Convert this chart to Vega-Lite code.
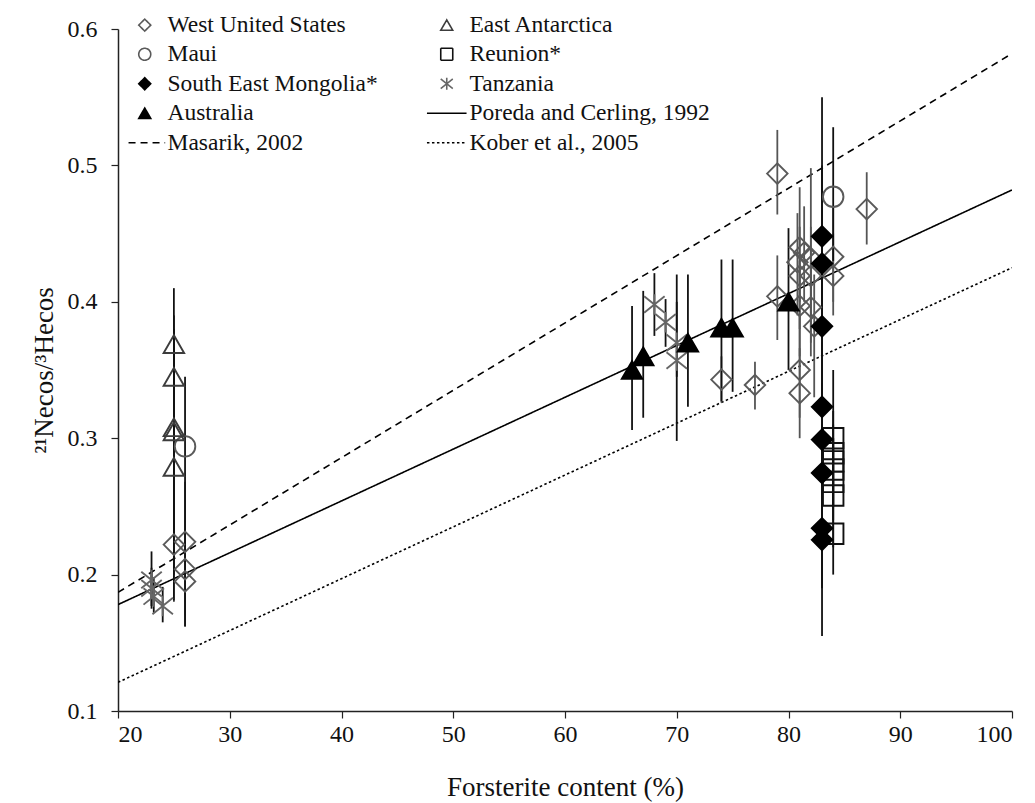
{
  "$schema": "https://vega.github.io/schema/vega-lite/v6.json",
  "width": 894,
  "height": 682,
  "autosize": {"type": "none"},
  "padding": {"left": 118, "top": 29, "right": 23, "bottom": 92},
  "background": "white",
  "config": {
    "view": {"stroke": null},
    "font": "Liberation Serif",
    "axis": {
      "grid": false,
      "domainColor": "#222",
      "domainWidth": 1.5,
      "tickColor": "#222",
      "tickWidth": 1.2,
      "tickSize": 7,
      "labelFont": "Liberation Serif",
      "labelFontSize": 24,
      "labelColor": "#111",
      "titleFont": "Liberation Serif",
      "titleFontWeight": "normal",
      "titleFontSize": 27,
      "titleColor": "#111"
    },
    "legend": {
      "orient": "none",
      "legendX": 15,
      "legendY": -16,
      "columns": 2,
      "padding": 0,
      "columnPadding": 45,
      "rowPadding": 4.5,
      "symbolSize": 144,
      "symbolStrokeWidth": 1.6,
      "symbolFillColor": "transparent",
      "labelFont": "Liberation Serif",
      "labelFontSize": 23.5,
      "labelColor": "#111",
      "labelOffset": 11,
      "labelLimit": 400
    }
  },
  "datasets": {
    "obs": [
      {"series": "West United States", "fo": 25, "val": 0.222, "lo": 0.180, "hi": 0.262},
      {"series": "West United States", "fo": 26, "val": 0.224, "lo": 0.180, "hi": 0.268},
      {"series": "West United States", "fo": 26, "val": 0.204, "lo": 0.170, "hi": 0.240},
      {"series": "West United States", "fo": 26, "val": 0.195, "lo": 0.162, "hi": 0.230},
      {"series": "West United States", "fo": 74, "val": 0.343, "lo": 0.326, "hi": 0.360},
      {"series": "West United States", "fo": 77, "val": 0.339, "lo": 0.321, "hi": 0.356},
      {"series": "West United States", "fo": 79, "val": 0.494, "lo": 0.464, "hi": 0.526},
      {"series": "West United States", "fo": 79, "val": 0.404, "lo": 0.372, "hi": 0.434},
      {"series": "West United States", "fo": 87, "val": 0.468, "lo": 0.442, "hi": 0.495},
      {"series": "West United States", "fo": 81, "val": 0.440, "lo": 0.400, "hi": 0.484},
      {"series": "West United States", "fo": 81.4, "val": 0.436, "lo": 0.400, "hi": 0.470},
      {"series": "West United States", "fo": 80.8, "val": 0.429, "lo": 0.390, "hi": 0.465},
      {"series": "West United States", "fo": 82, "val": 0.432, "lo": 0.370, "hi": 0.498},
      {"series": "West United States", "fo": 81, "val": 0.419, "lo": 0.380, "hi": 0.455},
      {"series": "West United States", "fo": 82, "val": 0.419, "lo": 0.380, "hi": 0.455},
      {"series": "West United States", "fo": 84, "val": 0.433, "lo": 0.400, "hi": 0.470},
      {"series": "West United States", "fo": 84, "val": 0.419, "lo": 0.390, "hi": 0.450},
      {"series": "West United States", "fo": 81, "val": 0.397, "lo": 0.360, "hi": 0.430},
      {"series": "West United States", "fo": 82, "val": 0.396, "lo": 0.360, "hi": 0.430},
      {"series": "West United States", "fo": 82.3, "val": 0.382, "lo": 0.330, "hi": 0.420},
      {"series": "West United States", "fo": 81, "val": 0.350, "lo": 0.315, "hi": 0.390},
      {"series": "West United States", "fo": 81, "val": 0.333, "lo": 0.300, "hi": 0.366},
      {"series": "Maui", "fo": 26, "val": 0.294, "lo": 0.162, "hi": 0.345},
      {"series": "Maui", "fo": 84, "val": 0.477, "lo": 0.430, "hi": 0.528},
      {"series": "East Antarctica", "fo": 25, "val": 0.369, "lo": 0.330, "hi": 0.410},
      {"series": "East Antarctica", "fo": 25, "val": 0.345, "lo": 0.300, "hi": 0.390},
      {"series": "East Antarctica", "fo": 25, "val": 0.308, "lo": 0.200, "hi": 0.380},
      {"series": "East Antarctica", "fo": 25, "val": 0.305, "lo": 0.230, "hi": 0.370},
      {"series": "East Antarctica", "fo": 25, "val": 0.279, "lo": 0.181, "hi": 0.360},
      {"series": "Reunion*", "fo": 84, "val": 0.300, "lo": 0.250, "hi": 0.350},
      {"series": "Reunion*", "fo": 84, "val": 0.289, "lo": 0.260, "hi": 0.320},
      {"series": "Reunion*", "fo": 84, "val": 0.283, "lo": 0.250, "hi": 0.310},
      {"series": "Reunion*", "fo": 84, "val": 0.277, "lo": 0.250, "hi": 0.300},
      {"series": "Reunion*", "fo": 84, "val": 0.268, "lo": 0.240, "hi": 0.300},
      {"series": "Reunion*", "fo": 84, "val": 0.258, "lo": 0.220, "hi": 0.290},
      {"series": "Reunion*", "fo": 84, "val": 0.230, "lo": 0.200, "hi": 0.260},
      {"series": "South East Mongolia*", "fo": 83, "val": 0.448, "lo": 0.400, "hi": 0.550},
      {"series": "South East Mongolia*", "fo": 83, "val": 0.428, "lo": 0.360, "hi": 0.500},
      {"series": "South East Mongolia*", "fo": 83, "val": 0.382, "lo": 0.330, "hi": 0.440},
      {"series": "South East Mongolia*", "fo": 83, "val": 0.323, "lo": 0.280, "hi": 0.370},
      {"series": "South East Mongolia*", "fo": 83, "val": 0.299, "lo": 0.260, "hi": 0.340},
      {"series": "South East Mongolia*", "fo": 83, "val": 0.2745, "lo": 0.240, "hi": 0.310},
      {"series": "South East Mongolia*", "fo": 83, "val": 0.234, "lo": 0.190, "hi": 0.280},
      {"series": "South East Mongolia*", "fo": 83, "val": 0.2255, "lo": 0.155, "hi": 0.280},
      {"series": "Tanzania", "fo": 23, "val": 0.196, "lo": 0.177, "hi": 0.217},
      {"series": "Tanzania", "fo": 23, "val": 0.190, "lo": 0.175, "hi": 0.205},
      {"series": "Tanzania", "fo": 23.2, "val": 0.184, "lo": 0.172, "hi": 0.198},
      {"series": "Tanzania", "fo": 24, "val": 0.177, "lo": 0.165, "hi": 0.191},
      {"series": "Tanzania", "fo": 68, "val": 0.398, "lo": 0.375, "hi": 0.421},
      {"series": "Tanzania", "fo": 69, "val": 0.385, "lo": 0.367, "hi": 0.402},
      {"series": "Tanzania", "fo": 70, "val": 0.370, "lo": 0.345, "hi": 0.400},
      {"series": "Tanzania", "fo": 70, "val": 0.357, "lo": 0.298, "hi": 0.420},
      {"series": "Australia", "fo": 66, "val": 0.350, "lo": 0.306, "hi": 0.397},
      {"series": "Australia", "fo": 67, "val": 0.360, "lo": 0.315, "hi": 0.408},
      {"series": "Australia", "fo": 71, "val": 0.370, "lo": 0.323, "hi": 0.420},
      {"series": "Australia", "fo": 74, "val": 0.381, "lo": 0.327, "hi": 0.431},
      {"series": "Australia", "fo": 75, "val": 0.381, "lo": 0.334, "hi": 0.431},
      {"series": "Australia", "fo": 80, "val": 0.400, "lo": 0.350, "hi": 0.454}
    ],
    "fits": [
      {"series": "Poreda and Cerling, 1992", "fo": 20, "val": 0.178},
      {"series": "Poreda and Cerling, 1992", "fo": 100, "val": 0.482},
      {"series": "Masarik, 2002", "fo": 20, "val": 0.187},
      {"series": "Masarik, 2002", "fo": 100, "val": 0.582},
      {"series": "Kober et al., 2005", "fo": 20, "val": 0.121},
      {"series": "Kober et al., 2005", "fo": 100, "val": 0.425}
    ]
  },
  "layer": [
    {
      "data": {"name": "fits"},
      "mark": {"type": "line", "strokeWidth": 1.6, "clip": true},
      "encoding": {
        "x": {
          "field": "fo", "type": "quantitative",
          "scale": {"domain": [20, 100], "nice": false, "zero": false},
          "axis": {"values": [20, 30, 40, 50, 60, 70, 80, 90, 100], "title": "Forsterite content (%)", "labelPadding": 4, "titlePadding": 28}
        },
        "y": {
          "field": "val", "type": "quantitative",
          "scale": {"domain": [0.1, 0.6], "nice": false, "zero": false},
          "axis": {"values": [0.1, 0.2, 0.3, 0.4, 0.5, 0.6], "format": ".1f", "title": "²¹Necos/³Hecos", "labelPadding": 14, "titlePadding": 9}
        },
        "stroke": {
          "field": "series", "type": "nominal", "title": null,
          "scale": {
            "domain": ["West United States", "Maui", "South East Mongolia*", "Australia", "Masarik, 2002", "East Antarctica", "Reunion*", "Tanzania", "Poreda and Cerling, 1992", "Kober et al., 2005"],
            "range": ["#5a5a5a", "#5a5a5a", "#000000", "#000000", "#000000", "#3c3c3c", "#111111", "#666666", "#000000", "#000000"]
          }
        },
        "strokeDash": {
          "field": "series", "type": "nominal", "title": null,
          "scale": {
            "domain": ["West United States", "Maui", "South East Mongolia*", "Australia", "Masarik, 2002", "East Antarctica", "Reunion*", "Tanzania", "Poreda and Cerling, 1992", "Kober et al., 2005"],
            "range": [[1, 0], [1, 0], [1, 0], [1, 0], [7, 5], [1, 0], [1, 0], [1, 0], [1, 0], [2.5, 2.5]]
          }
        }
      }
    },
    {
      "data": {"name": "obs"},
      "mark": {"type": "rule", "strokeWidth": 1.8},
      "encoding": {
        "x": {"field": "fo", "type": "quantitative"},
        "y": {"field": "lo", "type": "quantitative"},
        "y2": {"field": "hi"},
        "stroke": {"condition": {"test": "datum.series === 'West United States'", "value": "#555555"}, "value": "#111111"}
      }
    },
    {
      "data": {"name": "obs"},
      "mark": {"type": "point", "filled": true, "size": 420, "strokeWidth": 1.9, "opacity": 1},
      "encoding": {
        "x": {"field": "fo", "type": "quantitative"},
        "y": {"field": "val", "type": "quantitative"},
        "shape": {
          "field": "series", "type": "nominal", "title": null,
          "scale": {
            "domain": ["West United States", "Maui", "South East Mongolia*", "Australia", "Masarik, 2002", "East Antarctica", "Reunion*", "Tanzania", "Poreda and Cerling, 1992", "Kober et al., 2005"],
            "range": ["diamond", "circle", "diamond", "triangle-up", "M-2.7,0L3.4,0", "triangle-up", "square", "M-1,-0.8L1,0.8M-1,0.8L1,-0.8M0,-1L0,1", "M-3.3,0L3.3,0", "M-3.3,0L3.3,0"]
          }
        },
        "fill": {
          "field": "series", "type": "nominal", "title": null,
          "scale": {
            "domain": ["West United States", "Maui", "South East Mongolia*", "Australia", "Masarik, 2002", "East Antarctica", "Reunion*", "Tanzania", "Poreda and Cerling, 1992", "Kober et al., 2005"],
            "range": ["transparent", "transparent", "#000000", "#000000", "transparent", "transparent", "transparent", "transparent", "transparent", "transparent"]
          }
        },
        "stroke": {"field": "series", "type": "nominal", "title": null}
      }
    }
  ]
}
